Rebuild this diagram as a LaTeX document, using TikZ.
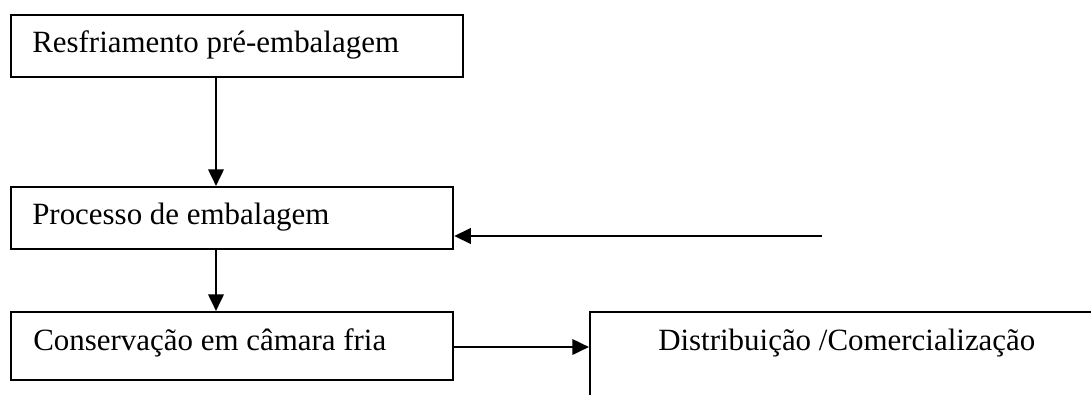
\documentclass[tikz,border=0pt]{standalone}
\usepackage{fontspec}
\setmainfont{Liberation Serif}
\usetikzlibrary{arrows.meta}
\begin{document}
\begin{tikzpicture}[x=0.75pt,y=-0.75pt,
  box/.style={draw,line width=1.6pt,rectangle,inner sep=0pt,anchor=north west},
  lbl/.style={anchor=base west,inner sep=0pt,font=\fontsize{23.2pt}{28pt}\selectfont},
  arr/.style={line width=2pt,-{Triangle[length=12.5pt,width=11.5pt]}}]
\path[fill=white] (0,0) rectangle (1091,394);
\clip (0,0) rectangle (1091,394);
% boxes
\node[box,minimum width=339pt,minimum height=46.5pt] (b1) at (10,14) {};
\node[box,minimum width=331.5pt,minimum height=46.5pt] (b2) at (10,186) {};
\node[box,minimum width=331.5pt,minimum height=51pt] (b3) at (10,311) {};
\node[box,minimum width=450pt,minimum height=112.5pt] (b4) at (589,311) {};
% labels
\node[lbl] (t1) at (32,52) {Resfriamento pré-embalagem};
\node[lbl] (t2) at (32,224) {Processo de embalagem};
\node[lbl] (t3) at (33,350) {Conservação em câmara fria};
\node[lbl] (t4) at (658,350) {Distribuição /Comercialização};
% helper coordinates
\coordinate (xA) at (216,0);
\coordinate (inB) at (822,236);
\coordinate (yD) at (0,347);
% connectors
\draw[arr] (b1.south -| xA) -- (b2.north -| xA);
\draw[arr] (b2.south -| xA) -- (b3.north -| xA);
\draw[arr] (inB) -- (inB -| b2.east);
\draw[arr] (yD -| b3.east) -- (yD -| b4.north west);
\end{tikzpicture}
\end{document}
